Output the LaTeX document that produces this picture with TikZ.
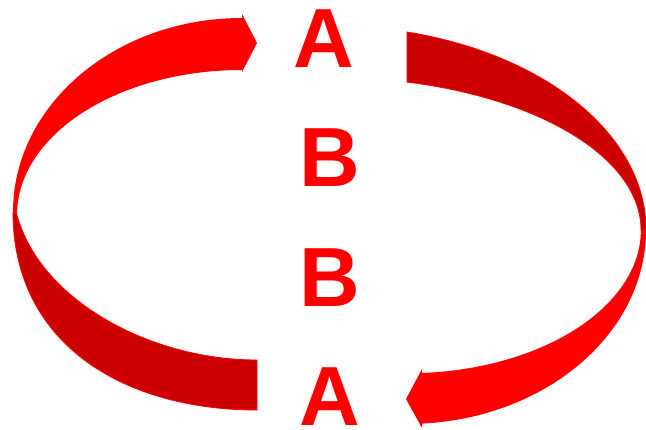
\documentclass[tikz,border=0pt]{standalone}
\usepackage{fontspec}
\setmainfont{Liberation Sans}
\definecolor{frontred}{HTML}{FF0000}
\definecolor{backred}{HTML}{CC0000}
\begin{document}
\begin{tikzpicture}[x=1pt,y=-1pt,
		front/.style={fill=frontred},
		back/.style={fill=backred,draw=frontred,line width=0.8pt,line join=round},
		letter/.style={text=frontred,inner sep=0pt,anchor=base,font=\bfseries\fontsize{84}{84}\selectfont}]
			\useasboundingbox (0,0) rectangle (646,429);
			% upper left ribbon with head
			\fill[front] (13,212) arc[start angle=180,end angle=270,x radius=229,y radius=194]
				-- (242,14) -- (257,43) -- (242,72) -- (242,70)
				arc[start angle=270,end angle=180,x radius=225,y radius=145] -- cycle;
			% upper right ribbon
			\filldraw[back] (407,32) arc[start angle=-75.9,end angle=0,x radius=316,y radius=204]
				-- (641,230) arc[start angle=0,end angle=-75.65,x radius=311,y radius=152.7] -- cycle;
			% lower right ribbon with head
			\fill[front] (646,230) arc[start angle=0,end angle=86.4,x radius=239,y radius=194]
				-- (422,428) -- (406,399) -- (422,369) -- (422,373)
				arc[start angle=86.3,end angle=0,x radius=234,y radius=143.5] -- cycle;
			% lower left ribbon
			\filldraw[back] (257,360) .. controls (150,360) and (40,300) .. (17,215) -- (13,212)
				.. controls (13,345) and (125,410) .. (257,410) -- cycle;
			\node[letter] (a1) at (324,67) {A};
			\node[letter] (b1) at (329.5,186) {B};
			\node[letter] (b2) at (329.5,306) {B};
			\node[letter] (a2) at (330,425) {A};
	\end{tikzpicture}
\end{document}
